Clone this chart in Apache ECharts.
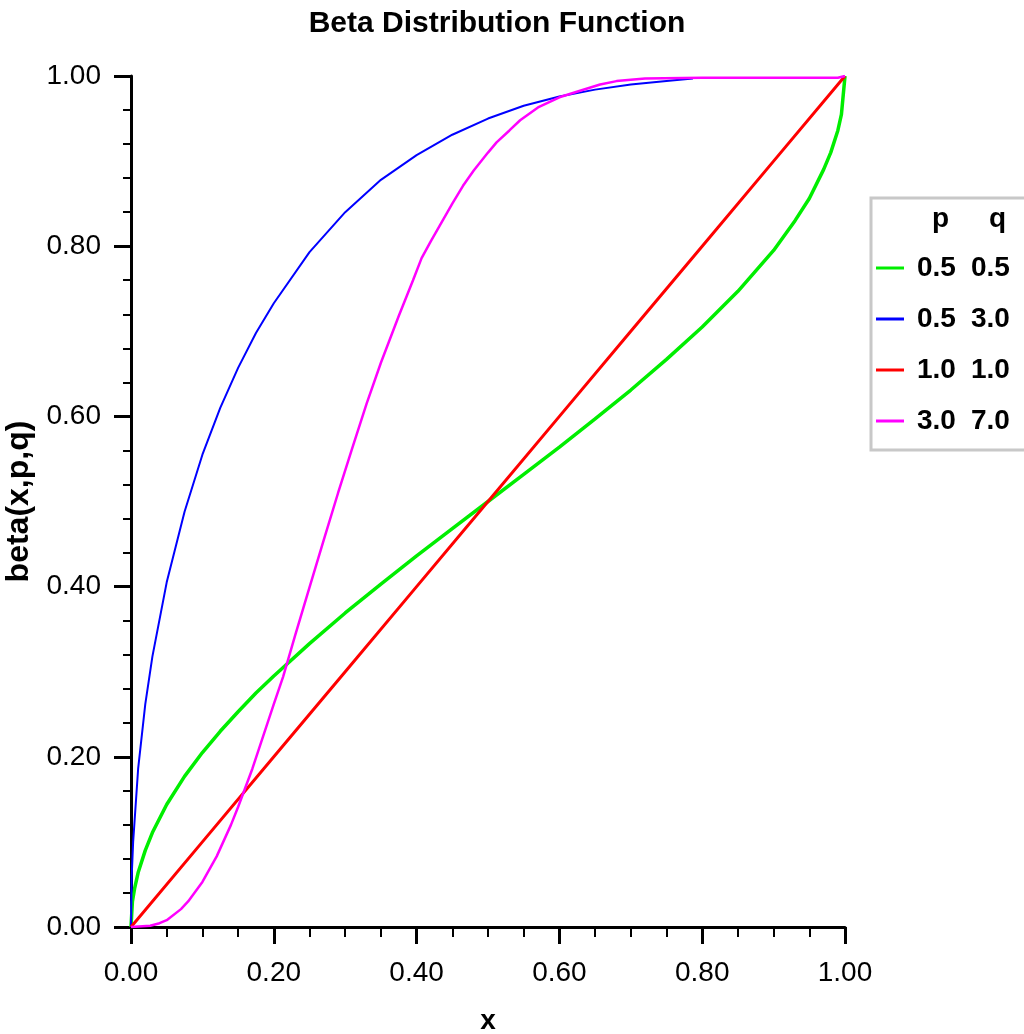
<!DOCTYPE html>
<html>
<head>
<meta charset="utf-8">
<title>Beta Distribution Function</title>
<script src="https://cdn.jsdelivr.net/npm/echarts@6/dist/echarts.min.js"></script>
<style>
  html, body { margin: 0; padding: 0; background: #fff; }
  #mainChart { width: 1024px; height: 1034px; }
</style>
</head>
<body>
<div id="mainChart"></div>
<script>
// legend columns
var pValues = ['0.5', '0.5', '1.0', '3.0'];
var qValues = ['0.5', '3.0', '1.0', '7.0'];
var colors = ['#00ee00', '#0000ff', '#ff0000', '#ff00ff'];

// axis ticks
var xTicks = [0, 0.2, 0.4, 0.6, 0.8, 1.0];
var yTicks = [0, 0.2, 0.4, 0.6, 0.8, 1.0];

// curves, [x, beta(x,p,q)]
var curve05_05 = [
    [0, 0], [0.002, 0.03], [0.005, 0.045], [0.01, 0.064], [0.02, 0.09], [0.03, 0.111],
    [0.05, 0.144], [0.075, 0.177], [0.1, 0.205], [0.125, 0.23], [0.15, 0.253], [0.175, 0.275],
    [0.2, 0.295], [0.25, 0.333], [0.3, 0.369], [0.35, 0.403], [0.4, 0.436], [0.45, 0.468],
    [0.5, 0.5], [0.55, 0.532], [0.6, 0.564], [0.65, 0.597], [0.7, 0.631], [0.75, 0.667],
    [0.8, 0.705], [0.85, 0.747], [0.9, 0.795], [0.93, 0.83], [0.95, 0.856], [0.97, 0.89],
    [0.98, 0.91], [0.99, 0.936], [0.995, 0.955], [1, 1]
];
var curve05_30 = [
    [0, 0], [0.001, 0.06], [0.003, 0.1], [0.01, 0.186], [0.02, 0.262], [0.03, 0.318],
    [0.05, 0.405], [0.075, 0.488], [0.1, 0.555], [0.125, 0.61], [0.15, 0.657], [0.175, 0.698],
    [0.2, 0.733], [0.25, 0.793], [0.3, 0.84], [0.35, 0.878], [0.4, 0.907], [0.45, 0.931],
    [0.5, 0.95], [0.55, 0.965], [0.6, 0.976], [0.65, 0.984], [0.7, 0.99], [0.75, 0.994],
    [0.787, 0.997]
];
var curve10_10 = [
    [0, 0], [0.1, 0.1], [0.2, 0.2], [0.3, 0.3], [0.4, 0.4], [0.5, 0.5],
    [0.6, 0.6], [0.7, 0.7], [0.8, 0.8], [0.9, 0.9], [1, 1]
];
var curve30_70 = [
    [0, 0], [0.027, 0.0015], [0.04, 0.0045], [0.05, 0.008], [0.07, 0.021], [0.08, 0.03],
    [0.1, 0.053], [0.12, 0.083], [0.14, 0.12], [0.15, 0.141], [0.17, 0.186], [0.2, 0.262],
    [0.213, 0.294], [0.23, 0.343], [0.25, 0.399], [0.27, 0.455], [0.29, 0.51], [0.31, 0.563],
    [0.33, 0.615], [0.35, 0.663], [0.375, 0.718], [0.395, 0.76], [0.407, 0.786], [0.42, 0.806],
    [0.437, 0.831], [0.45, 0.85], [0.465, 0.871], [0.48, 0.889], [0.5, 0.91], [0.512, 0.922],
    [0.53, 0.936], [0.545, 0.948], [0.57, 0.963], [0.6, 0.975], [0.63, 0.983], [0.657, 0.99],
    [0.68, 0.994], [0.72, 0.997], [0.8, 0.998], [0.99, 0.998], [1, 1]
];

var curves = [curve05_05, curve05_30, curve10_10, curve30_70];
var lineWidths = [3.5, 2, 3, 2.5];

var fontFamily = '"Liberation Sans", Arial, sans-serif';

var myChart = echarts.init(document.getElementById('mainChart'));

var series = curves.map(function (data, i) {
    return {
        name: pValues[i] + ' ' + qValues[i],
        type: 'line',
        data: data,
        showSymbol: false,
        smooth: false,
        lineStyle: { color: colors[i], width: lineWidths[i] },
        itemStyle: { color: colors[i] },
        z: 2 + i
    };
});

function axisBase(ticks) {
    return {
        type: 'value',
        min: ticks[0],
        max: ticks[ticks.length - 1],
        interval: ticks[1] - ticks[0],
        splitLine: { show: false },
        axisLine: { show: true, onZero: false, lineStyle: { color: '#000', width: 3 } },
        axisTick: { show: true, length: 17, lineStyle: { color: '#000', width: 3 } },
        axisLabel: {
            color: '#000',
            fontSize: 28,
            fontFamily: fontFamily,
            formatter: function (v) { return v.toFixed(2); }
        },
        nameTextStyle: { color: '#000', fontSize: 28, fontWeight: 'bold', fontFamily: fontFamily }
    };
}

var xAxis = axisBase(xTicks);
xAxis.name = 'x';
xAxis.nameLocation = 'middle';
xAxis.nameGap = 80;
xAxis.minorTick = { show: true, splitNumber: 4, length: 10, lineStyle: { color: '#000', width: 2 } };
xAxis.axisLabel.margin = 32;

var yAxis = axisBase(yTicks);
yAxis.name = 'beta(x,p,q)';
yAxis.nameLocation = 'middle';
yAxis.nameGap = 86;
yAxis.nameTextStyle.fontSize = 32;
yAxis.minorTick = { show: true, splitNumber: 5, length: 8, lineStyle: { color: '#000', width: 2 } };
yAxis.axisLabel.margin = 30;

var option = {
    backgroundColor: '#fff',
    animation: false,
    title: {
        text: 'Beta Distribution Function',
        left: 492,
        textAlign: 'center',
        top: 4,
        textStyle: { color: '#000', fontSize: 30, fontWeight: 'bold', fontFamily: fontFamily }
    },
    grid: {
        left: 131,
        right: 179,
        top: 76,
        bottom: 107,
        containLabel: false,
        outerBoundsMode: 'none'
    },
    legend: {
        orient: 'vertical',
        left: 871,
        top: 198,
        selectedMode: false,
        icon: 'rect',
        itemWidth: 28,
        itemHeight: 3,
        itemGap: 23,
        padding: [56, 30, 15, 5],
        borderColor: '#c8c8c8',
        borderWidth: 3,
        backgroundColor: '#fff',
        formatter: function (name) {
            var parts = name.split(' ');
            return '{p|' + parts[0] + '}{q|' + parts[1] + '}';
        },
        textStyle: {
            color: '#000', fontSize: 28, fontWeight: 'bold', fontFamily: fontFamily,
            rich: {
                p: { width: 54, padding: [0, 0, 0, 8], fontSize: 28, fontWeight: 'bold', fontFamily: fontFamily, color: '#000' },
                q: { fontSize: 28, fontWeight: 'bold', fontFamily: fontFamily, color: '#000' }
            }
        },
        data: series.map(function (s) { return s.name; })
    },
    graphic: [
        { type: 'text', left: 932, top: 205, style: { text: 'p', fontSize: 28, fontWeight: 'bold', fontFamily: fontFamily, fill: '#000' }, z: 100 },
        { type: 'text', left: 989, top: 205, style: { text: 'q', fontSize: 28, fontWeight: 'bold', fontFamily: fontFamily, fill: '#000' }, z: 100 }
    ],
    xAxis: xAxis,
    yAxis: yAxis,
    series: series
};

myChart.setOption(option);
</script>
</body>
</html>
